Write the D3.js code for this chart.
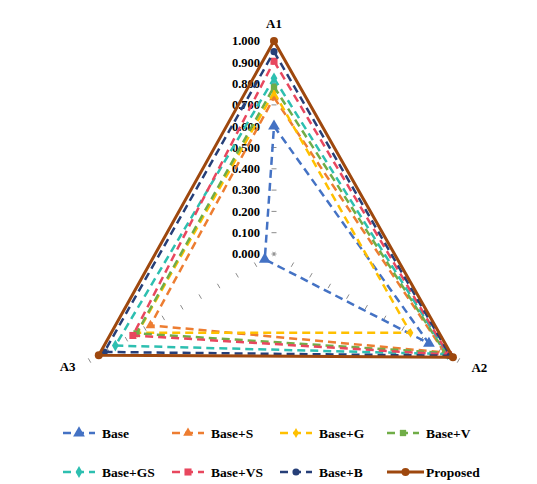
<!DOCTYPE html>
<html>
<head>
<meta charset="utf-8">
<script src="https://cdn.jsdelivr.net/npm/d3@7/dist/d3.min.js"></script>
<style>
html,body{margin:0;padding:0;background:#fff;}
svg{display:block;}
text{font-family:"Liberation Serif","Times New Roman",serif;font-weight:bold;fill:#000;}
</style>
</head>
<body>
<svg id="chart" width="537" height="484"></svg>
<script>
// ---- data ----
const axesNames = ["A1", "A2", "A3"];
const seriesNames = ["Base", "Base+S", "Base+G", "Base+V", "Base+GS", "Base+VS", "Base+B", "Proposed"];
const base     = [0.600, 0.840, 0.050];
const baseS    = [0.735, 0.925, 0.670];
const baseG    = [0.760, 0.740, 0.740];
const baseV    = [0.785, 0.930, 0.745];
const baseGS   = [0.825, 0.940, 0.860];
const baseVS   = [0.905, 0.945, 0.765];
const baseB    = [0.950, 0.955, 0.920];
const proposed = [1.000, 0.970, 0.950];
const tickValues = [0, 0.1, 0.2, 0.3, 0.4, 0.5, 0.6, 0.7, 0.8, 0.9, 1.0];

const seriesValues = [base, baseS, baseG, baseV, baseGS, baseVS, baseB, proposed];
const colors = ["#4472C4", "#ED7D31", "#FFC000", "#70AD47", "#2DBFB0", "#E8475E", "#263F78", "#9E480E"];
const markers = ["triangle", "triangle", "diamond", "square", "diamond", "square", "circle", "circle"];
const dashed = [true, true, true, true, true, true, true, false];

// ---- layout ----
const svg = d3.select("#chart");
const cx = 274, cy = 254, R = 213;
const r = d3.scaleLinear().domain([0, 1]).range([0, R]);
const angle = d3.scalePoint().domain(axesNames).range([0, 240]); // degrees clockwise from top
function pt(axis, v) {
  const a = angle(axis) * Math.PI / 180;
  return [cx + r(v) * Math.sin(a), cy - r(v) * Math.cos(a)];
}

// axis tick marks
const g = svg.append("g");
axesNames.forEach(ax => {
  const a = angle(ax) * Math.PI / 180;
  const px = Math.cos(a), py = Math.sin(a); // perpendicular
  tickValues.forEach(t => {
    const [x, y] = pt(ax, t);
    g.append("line")
      .attr("x1", x - px * 2.5).attr("y1", y - py * 2.5)
      .attr("x2", x + px * 2.5).attr("y2", y + py * 2.5)
      .attr("stroke", "#8c8c8c").attr("stroke-width", 1);
  });
});

// tick labels on A1 axis
const fmt = d3.format(".3f");
tickValues.forEach(t => {
  const [x, y] = pt("A1", t);
  svg.append("text").attr("x", x - 14).attr("y", y).attr("dy", "0.35em")
    .attr("text-anchor", "end").attr("font-size", 12.5).text(fmt(t));
});

// axis names
const namePos = {A1: [0, -18, "middle"], A2: [13, 7, "start"], A3: [-14, 6, "end"]};
axesNames.forEach(ax => {
  const [x, y] = pt(ax, 1);
  const p = namePos[ax];
  svg.append("text").attr("x", x + p[0]).attr("y", y + p[1]).attr("dy", "0.35em")
    .attr("text-anchor", p[2]).attr("font-size", 13).text(ax);
});

// marker shapes
function markerPath(type, size) {
  const sym = {triangle: d3.symbolTriangle, diamond: d3.symbolDiamond, square: d3.symbolSquare, circle: d3.symbolCircle}[type];
  return d3.symbol().type(sym).size(size)();
}
const markerSize = [60, 40, 28, 40, 40, 50, 40, 50];

// series polygons
const line = d3.line().curve(d3.curveLinearClosed);
seriesValues.forEach((vals, i) => {
  const pts = axesNames.map((ax, j) => pt(ax, vals[j]));
  svg.append("path").attr("d", line(pts)).attr("fill", "none")
    .attr("stroke", colors[i]).attr("stroke-width", dashed[i] ? 2.5 : 3)
    .attr("stroke-dasharray", dashed[i] ? "8,5" : null)
    .attr("stroke-linejoin", "round");
  pts.forEach(p => {
    svg.append("path").attr("d", markerPath(markers[i], markerSize[i]))
      .attr("transform", `translate(${p[0]},${p[1]})`)
      .attr("fill", colors[i]);
  });
});

// legend
const legX = [63, 172, 280, 387];
const legY = [433, 472];
seriesNames.forEach((name, i) => {
  const x = legX[i % 4], y = legY[Math.floor(i / 4)];
  const w = i === 7 ? 37 : 32;
  const lg = svg.append("g");
  lg.append("line").attr("x1", x).attr("y1", y).attr("x2", x + w).attr("y2", y)
    .attr("stroke", colors[i]).attr("stroke-width", dashed[i] ? 2.5 : 3)
    .attr("stroke-dasharray", dashed[i] ? "8,5" : null);
  lg.append("path").attr("d", markerPath(markers[i], markerSize[i]))
    .attr("transform", `translate(${x + w / 2},${y})`).attr("fill", colors[i]);
  lg.append("text").attr("x", x + 39).attr("y", y).attr("dy", "0.35em")
    .attr("font-size", 13.5).text(name);
});
</script>
</body>
</html>
